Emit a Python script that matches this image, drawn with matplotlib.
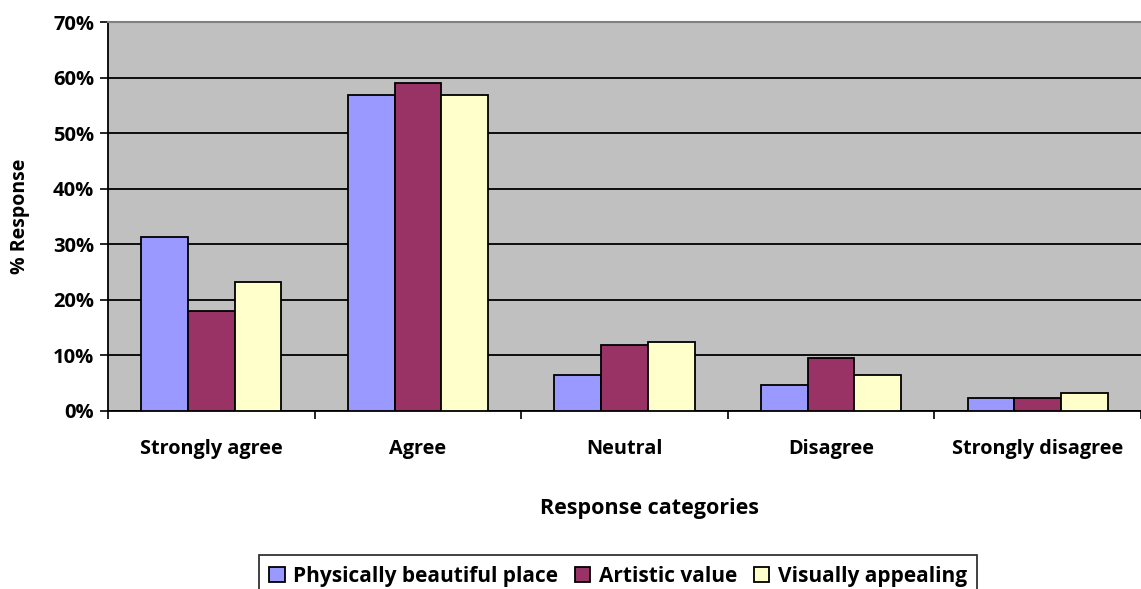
import numpy as np
import matplotlib
matplotlib.use("Agg")
import matplotlib.pyplot as plt
from matplotlib.ticker import PercentFormatter, FixedLocator

plt.rcParams['font.family'] = ['Open Sans', 'DejaVu Sans']
plt.rcParams['font.weight'] = 'bold'

categories = ["Strongly agree", "Agree", "Neutral", "Disagree", "Strongly disagree"]
beautiful = [31.3, 56.9, 6.5, 4.6, 2.4]
artistic = [18.0, 59.0, 11.9, 9.6, 2.4]
appealing = [23.3, 56.9, 12.5, 6.5, 3.2]

series = [
    ("Physically beautiful place", beautiful, "#9999FF"),
    ("Artistic value", artistic, "#993366"),
    ("Visually appealing", appealing, "#FFFFCC"),
]

fig = plt.figure(figsize=(11.41, 5.89), dpi=100)
ax = fig.add_axes([108 / 1141, 178 / 589, 1033 / 1141, 389 / 589])
ax.set_facecolor("#C0C0C0")

x = np.arange(len(categories))
w = 0.226
for k, (name, vals, col) in enumerate(series):
    ax.bar(x + (k - 1) * w, vals, width=w, color=col, edgecolor="black",
           linewidth=1.3, label=name, zorder=3)

ax.set_xlim(-0.5, len(categories) - 0.5)
ax.set_ylim(0, 70)
ax.yaxis.set_major_locator(FixedLocator(np.arange(0, 71, 10)))
ax.yaxis.set_major_formatter(PercentFormatter(decimals=0))
ax.grid(axis="y", color="black", linewidth=1.3, zorder=1)
ax.set_axisbelow(True)

ax.set_xticks(x)
ax.set_xticklabels(categories, fontsize=14.3, fontweight="bold")
ax.tick_params(axis="x", length=0, pad=20)
ax.set_xticks(np.arange(-0.5, len(categories)), minor=True)
ax.tick_params(axis="x", which="minor", length=6, width=1.2, direction="out")
ax.tick_params(axis="y", length=6, width=1.2, labelsize=14.5, pad=4)
for lab in ax.get_yticklabels():
    lab.set_fontweight("bold")

for side in ("left", "bottom"):
    ax.spines[side].set_color("black")
    ax.spines[side].set_linewidth(1.3)
ax.spines["top"].set_color("#808080")
ax.spines["top"].set_linewidth(1.5)
ax.spines["right"].set_visible(False)

ax.set_xlabel("Response categories", fontsize=15.5, fontweight="bold")
ax.xaxis.set_label_coords((650 - 108) / 1033, -(498 - 411) / 389)
ax.set_ylabel("% Response", fontsize=14, fontweight="bold")
ax.yaxis.set_label_coords(-(108 - 30) / 1033, (411 - 216) / 389)

leg = fig.legend(loc="upper center", bbox_to_anchor=(618 / 1141, 1 - 545 / 589),
                 ncol=3, frameon=True, fancybox=False, edgecolor="black",
                 handlelength=0.75, handleheight=0.75,
                 handletextpad=0.4, columnspacing=0.8, borderpad=0.5,
                 prop={"weight": "bold", "size": 15})
leg.get_frame().set_linewidth(1.3)

fig.savefig("out.png", dpi=100)
